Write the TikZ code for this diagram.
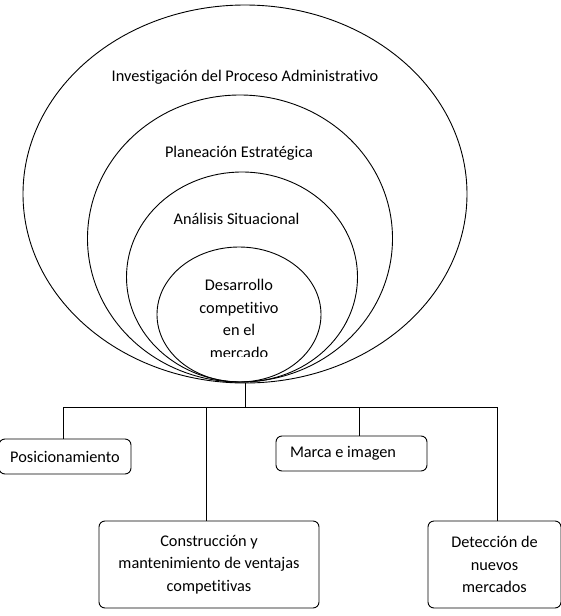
\documentclass[tikz,border=0pt]{standalone}
\usepackage{fontspec}
\setmainfont{Carlito}[Ligatures=NoCommon]
\usetikzlibrary{shapes.geometric,positioning}

\tikzset{
  ring/.style={draw, ellipse, line width=0.9pt, inner sep=0pt},
  tag/.style={font=\fontsize{16.3}{22.5}\selectfont, align=center, inner sep=0pt},
  card/.style={draw, rounded corners=6pt, line width=0.9pt, inner sep=0pt,
    font=\fontsize{16.3}{22.5}\selectfont, align=center},
  link/.style={line width=0.9pt}
}

\begin{document}
\begin{tikzpicture}[x=1pt,y=-1pt]
            \useasboundingbox (0,0) rectangle (560,616);

            % Nested ellipses
            \node[ring, minimum width=444, minimum height=378] (outer) at (245,194) {};
            \node[ring, minimum width=305, minimum height=287] (plan) at (240,238.5) {};
            \node[ring, minimum width=231, minimum height=210] (anal) at (242,277) {};
            \node[ring, minimum width=164, minimum height=135] (core) at (239,314.5) {};

            % Ellipse labels
            \node[tag] (tOuter) at (245,77) {Investigación del Proceso Administrativo};
            \node[tag] (tPlan) at (239,153) {Planeación Estratégica};
            \node[tag] (tAnal) at (236.5,219) {Análisis Situacional};
            \begin{scope}
              \clip (150,255) rectangle (330,356);
              \node[tag] (tCore) at (239,319) {Desarrollo\\competitivo\\en el\\mercado};
            \end{scope}

            % Bus
            \coordinate (hub) at (245,407);
            \coordinate (b1) at (63,407);
            \coordinate (b2) at (206,407);
            \coordinate (b3) at (359,407);
            \coordinate (b4) at (497,407);

            % Boxes
            \node[card, minimum width=132, minimum height=35] (pos) at (65,456.5) {Posicionamiento};
            \node[card, minimum height=35, text width=123, inner xsep=14pt, align=flush left] (marca) at (351.5,453.5) {Marca e imagen};
            \node[card, minimum width=220, minimum height=87] (cons) at (209,564.5) {Construcción y\\mantenimiento de ventajas\\competitivas};
            \node[card, minimum width=133, minimum height=87] (det) at (494.5,564.5) {Detección de\\nuevos\\mercados};

            % Connectors
            \draw[link] (outer.south) -- (hub);
            \draw[link] (b1) -- (b4);
            \draw[link] (b1) -- (b1 |- pos.north);
            \draw[link] (b2) -- (b2 |- cons.north);
            \draw[link] (b3) -- (b3 |- marca.north);
            \draw[link] (b4) -- (b4 |- det.north);
        \end{tikzpicture}
\end{document}
